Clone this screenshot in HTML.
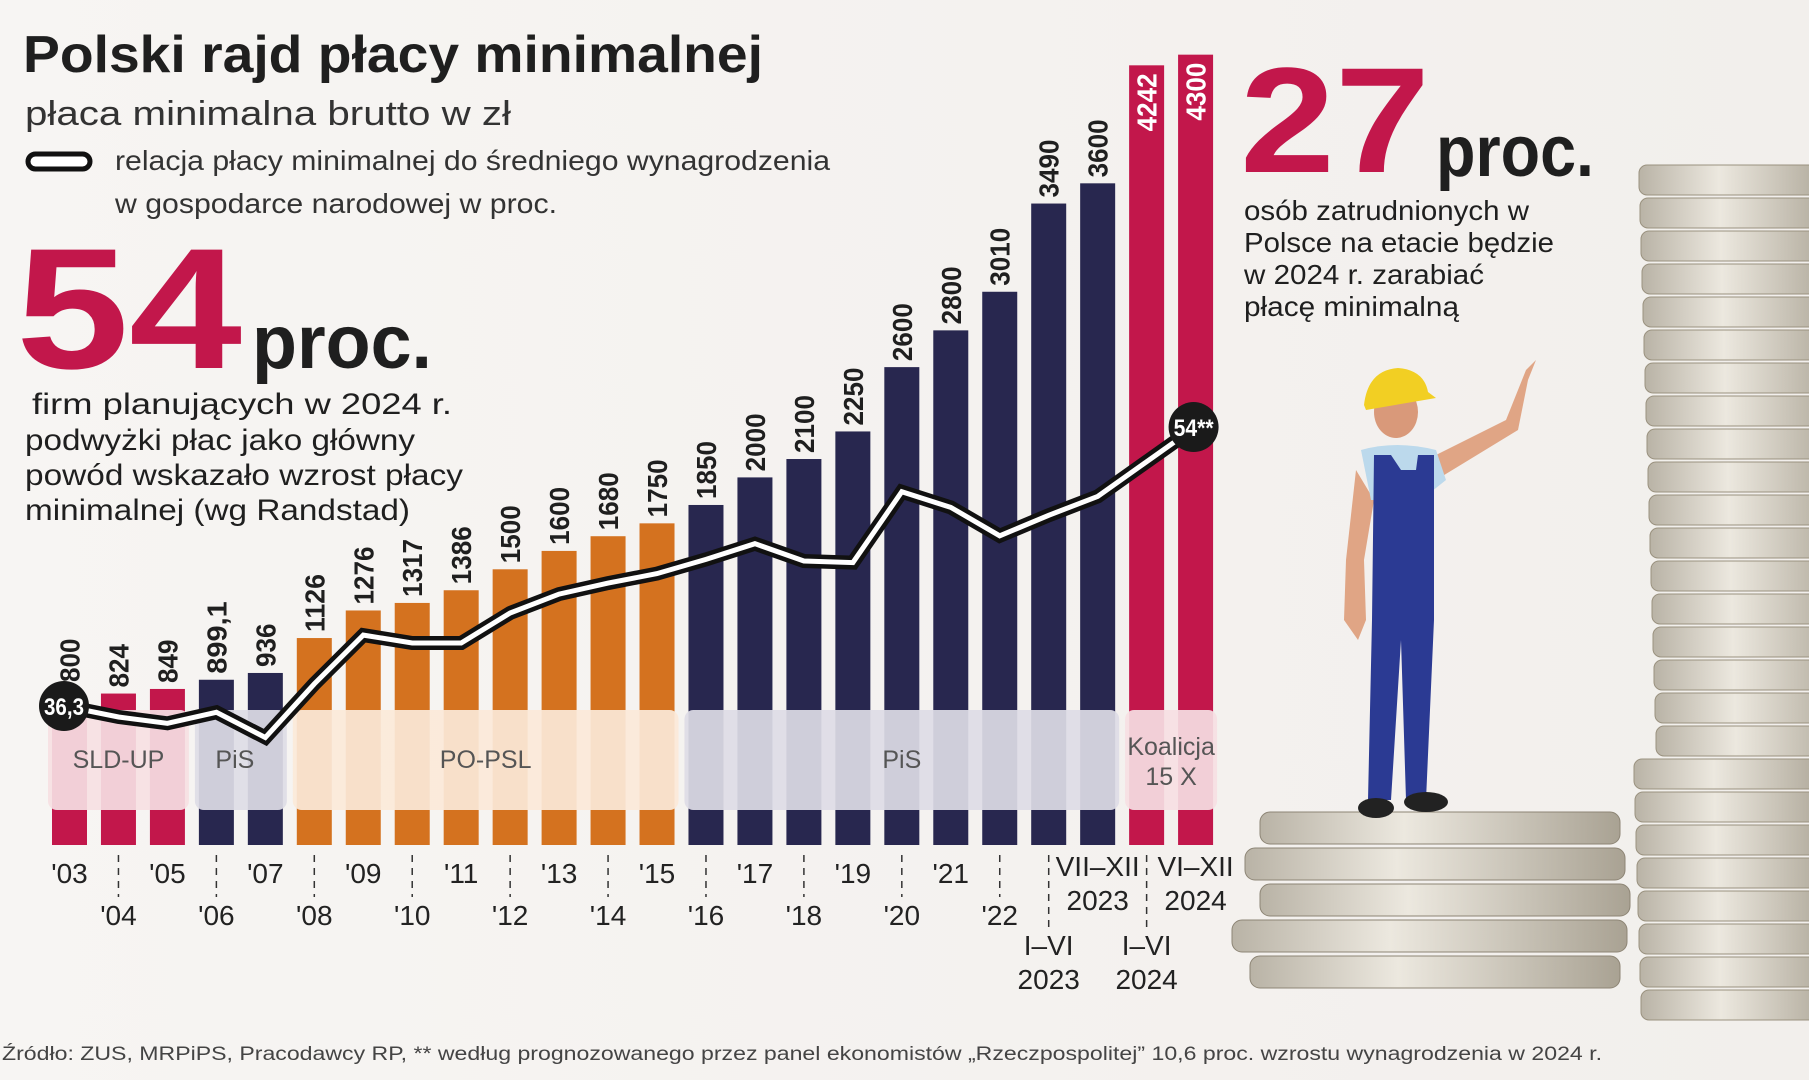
<!DOCTYPE html>
<html><head><meta charset="utf-8"><style>
html,body{margin:0;padding:0;background:#f6f4f2;}
svg{display:block;font-family:"Liberation Sans",sans-serif;}
</style></head><body>
<svg id="chart" width="1809" height="1080" viewBox="0 0 1809 1080">
<defs>
<linearGradient id="coin" x1="0" x2="1"><stop offset="0" stop-color="#b9b3a6"/><stop offset="0.4" stop-color="#ece8df"/><stop offset="1" stop-color="#a9a293"/></linearGradient>
<linearGradient id="bg" x1="0" x2="1"><stop offset="0" stop-color="#f7f5f3"/><stop offset="1" stop-color="#f2efec"/></linearGradient>
</defs>
<rect width="1809" height="1080" fill="url(#bg)"/>

<g id="photo">
  <g id="tallStack"></g>
  <g id="shortStack"></g>
  <g transform="translate(6,0)">
    <path d="M1350 470 L1340 560 L1338 620 L1352 640 L1360 620 L1358 560 L1368 500 Z" fill="#e0a585"/>
    <path d="M1420 460 L1500 420 L1520 370 L1530 360 L1522 380 L1512 430 L1430 480 Z" fill="#e0a585"/>
    <path d="M1355 450 Q1390 440 1430 450 L1440 480 L1415 500 L1365 500 Z" fill="#bcd9ec"/>
    <path d="M1368 455 L1385 455 L1395 470 L1410 470 L1412 455 L1428 455 L1428 620 L1420 800 L1400 800 L1395 640 L1385 800 L1362 800 L1366 620 Z" fill="#2b3a93"/>
    <ellipse cx="1370" cy="808" rx="18" ry="10" fill="#222"/>
    <ellipse cx="1420" cy="802" rx="22" ry="10" fill="#222"/>
    <ellipse cx="1390" cy="412" rx="22" ry="26" fill="#d9997a"/>
    <path d="M1358 405 Q1362 370 1392 368 Q1418 370 1422 392 L1430 398 L1360 410 Z" fill="#f2cf23"/>
  </g>
</g>

<g>
  <text x="23" y="72" font-size="52" font-weight="bold" fill="#1f1f1f" textLength="740" lengthAdjust="spacingAndGlyphs">Polski rajd płacy minimalnej</text>
  <text x="25" y="125" font-size="34" fill="#333" textLength="486" lengthAdjust="spacingAndGlyphs">płaca minimalna brutto w zł</text>
  <rect x="28" y="154" width="62" height="15" rx="7.5" fill="#fff" stroke="#111" stroke-width="5"/>
  <text x="115" y="170" font-size="28" fill="#333" textLength="715" lengthAdjust="spacingAndGlyphs">relacja płacy minimalnej do średniego wynagrodzenia</text>
  <text x="115" y="213" font-size="28" fill="#333" textLength="442" lengthAdjust="spacingAndGlyphs">w gospodarce narodowej w proc.</text>
</g>

<g>
  <text x="16" y="368" font-size="172" font-weight="bold" fill="#c2174b" textLength="226" lengthAdjust="spacingAndGlyphs">54</text>
  <text x="252" y="368" font-size="76" font-weight="bold" fill="#1f1f1f" textLength="180" lengthAdjust="spacingAndGlyphs">proc.</text>
  <g font-size="30" fill="#1f1f1f">
    <text x="32" y="414" textLength="420" lengthAdjust="spacingAndGlyphs">firm planujących w 2024 r.</text>
    <text x="25" y="450" textLength="390" lengthAdjust="spacingAndGlyphs">podwyżki płac jako główny</text>
    <text x="25" y="485" textLength="438" lengthAdjust="spacingAndGlyphs">powód wskazało wzrost płacy</text>
    <text x="25" y="520" textLength="385" lengthAdjust="spacingAndGlyphs">minimalnej (wg Randstad)</text>
  </g>
</g>

<g>
  <text x="1240" y="172" font-size="150" font-weight="bold" fill="#c2174b" textLength="190" lengthAdjust="spacingAndGlyphs">27</text>
  <text x="1436" y="176" font-size="72" font-weight="bold" fill="#1f1f1f" textLength="158" lengthAdjust="spacingAndGlyphs">proc.</text>
  <g font-size="28" fill="#1f1f1f">
    <text x="1244" y="220" textLength="285" lengthAdjust="spacingAndGlyphs">osób zatrudnionych w</text>
    <text x="1244" y="252" textLength="310" lengthAdjust="spacingAndGlyphs">Polsce na etacie będzie</text>
    <text x="1244" y="284" textLength="240" lengthAdjust="spacingAndGlyphs">w 2024 r. zarabiać</text>
    <text x="1244" y="316" textLength="215" lengthAdjust="spacingAndGlyphs">płacę minimalną</text>
  </g>
</g>

<g id="bars"></g>
<g id="bands"></g>
<g id="labels"></g>
<g id="line"></g>
<g id="xaxis"></g>

<text x="2" y="1060" font-size="19" fill="#444" textLength="1600" lengthAdjust="spacingAndGlyphs">Źródło: ZUS, MRPiPS, Pracodawcy RP, ** według prognozowanego przez panel ekonomistów „Rzeczpospolitej” 10,6 proc. wzrostu wynagrodzenia w 2024 r.</text>
</svg>
<script>
const categories = ["'03","'04","'05","'06","'07","'08","'09","'10","'11","'12","'13","'14","'15","'16","'17","'18","'19","'20","'21","'22","I–VI 2023","VII–XII 2023","I–VI 2024","VI–XII 2024"];
const wageValues = [800,824,849,899.1,936,1126,1276,1317,1386,1500,1600,1680,1750,1850,2000,2100,2250,2600,2800,3010,3490,3600,4242,4300];
const wageLabels = ["800","824","849","899,1","936","1126","1276","1317","1386","1500","1600","1680","1750","1850","2000","2100","2250","2600","2800","3010","3490","3600","4242","4300"];
const ratioValues = [36.3,35.6,35.2,35.9,34.3,37.7,40.8,40.3,40.3,42.2,43.4,44.1,44.7,45.6,46.6,45.5,45.4,49.9,48.9,47.1,48.4,49.6,null,54];
const barParty = [0,0,0,1,1,2,2,2,2,2,2,2,2,1,1,1,1,1,1,1,1,1,3,3];
const partyNames = ["SLD-UP","PiS","PO-PSL","PiS","Koalicja 15 X"];
const partySpans = [[0,2],[3,4],[5,12],[13,21],[22,23]];

const NS="http://www.w3.org/2000/svg";
const barColors=["#c2174b","#28274f","#d4721f","#c2174b"];
const bandColors=["#f6e0e3","#dddce6","#fbe9d9","#dddce6","#f6e0e3"];
const X0=52, PITCH=48.96, BW=35, BASE=845, KY=0.1838;
const xL=i=>X0+i*PITCH, xC=i=>X0+i*PITCH+BW/2, yV=v=>BASE-v*KY;
const yR=p=>706-(p-36.3)*15.76;
function mk(tag,attrs,parent){const e=document.createElementNS(NS,tag);for(const k in attrs)e.setAttribute(k,attrs[k]);parent.appendChild(e);return e;}

const gb=document.getElementById('bars'), gl=document.getElementById('labels'), gband=document.getElementById('bands'), gline=document.getElementById('line'), gx=document.getElementById('xaxis');
wageValues.forEach((v,i)=>{
  const r=mk('rect',{x:xL(i),y:yV(v),width:BW,height:BASE-yV(v),fill:barColors[barParty[i]]},gb);
  
  
  const inside=i>=22;
  const cx=xC(i)+10, ty=inside?yV(v)+8:yV(v)-(i===0?16:6);
  const t=mk('text',{x:0,y:0,transform:`translate(${cx},${ty}) rotate(-90)`,'font-size':28,'font-weight':'bold',fill:inside?'#fff':'#1f1f1f','text-anchor':inside?'end':'start',textLength:wageLabels[i].length*14.5,lengthAdjust:'spacingAndGlyphs'},gl);
  t.textContent=wageLabels[i];
  
  
});
partySpans.forEach((s,k)=>{
  const x1=xL(s[0])-4, x2=xL(s[1])+BW+4;
  const r=mk('rect',{x:x1,y:710,width:x2-x1,height:100,rx:9,fill:bandColors[k],'fill-opacity':0.92},gband);
  
  
  const cx=(x1+x2)/2;
  if(k===4){
    ["Koalicja","15 X"].forEach((w,j)=>{const t=mk('text',{x:cx,y:755+j*30,'font-size':25,fill:'#555','text-anchor':'middle'},gband);t.textContent=w;
      
      });
  } else {
    const t=mk('text',{x:k===1?cx-6:cx,y:768,'font-size':25,fill:'#555','text-anchor':'middle'},gband);t.textContent=partyNames[k];
    
    
  }
});
const pts=[];ratioValues.forEach((p,i)=>{if(p!==null)pts.push([i===0?64:xC(i),yR(p)]);});
const d='M'+pts.map(p=>p[0].toFixed(1)+' '+p[1].toFixed(1)).join(' L');
const p1=mk('path',{d:d,fill:'none',stroke:'#111','stroke-width':14,'stroke-linejoin':'miter'},gline);


const p2=mk('path',{d:d,fill:'none',stroke:'#fff','stroke-width':5,'stroke-linejoin':'miter'},gline);


[[0,"36,3"],[23,"54**"]].forEach(([i,lab])=>{
  const cx=i===0?64:xC(i)-2, cy=yR(ratioValues[i]);
  const c=mk('circle',{cx:cx,cy:cy,r:25,fill:'#1a1a1a'},gline);
  
  
  const t=mk('text',{x:cx,y:cy+9,'font-size':24,'font-weight':'bold',fill:'#fff','text-anchor':'middle',textLength:40,lengthAdjust:'spacingAndGlyphs'},gline);
  t.textContent=lab;
  
  
});
categories.forEach((c,i)=>{
  const top=(i%2===0&&i<20)||i===21||i===23;
  const cx=xC(i);
  if(i<20){
    const t=mk('text',{x:cx,y:top?883:925,'font-size':28,fill:'#222','text-anchor':'middle'},gx);t.textContent=c;
    
    
  } else {
    const parts=c.split(' ');
    parts.forEach((w,j)=>{const t=mk('text',{x:cx,y:(top?876:955)+j*34,'font-size':28,fill:'#222','text-anchor':'middle'},gx);t.textContent=w;
      
      });
  }
  if(!top){
    const l=mk('line',{x1:cx,x2:cx,y1:855,y2:i<20?897:932,stroke:'#333','stroke-width':1.5,'stroke-dasharray':'7 6'},gx);
    
    
  }
});
const ts=document.getElementById('tallStack');
for(let y=165;y<1000;y+=33){
  const off=((y*7)%23)-11;
  mk('rect',{x:1645+off,y:y,width:200,height:30,rx:8,fill:'url(#coin)',stroke:'#9a927f','stroke-width':1},ts);
}
const ss=document.getElementById('shortStack');
[[1260,812,360],[1245,848,380],[1260,884,370],[1232,920,395],[1250,956,370]].forEach(([x,y,w])=>{
  mk('rect',{x:x,y:y,width:w,height:32,rx:10,fill:'url(#coin)',stroke:'#8d8575','stroke-width':1},ss);
});
</script>
</body></html>
